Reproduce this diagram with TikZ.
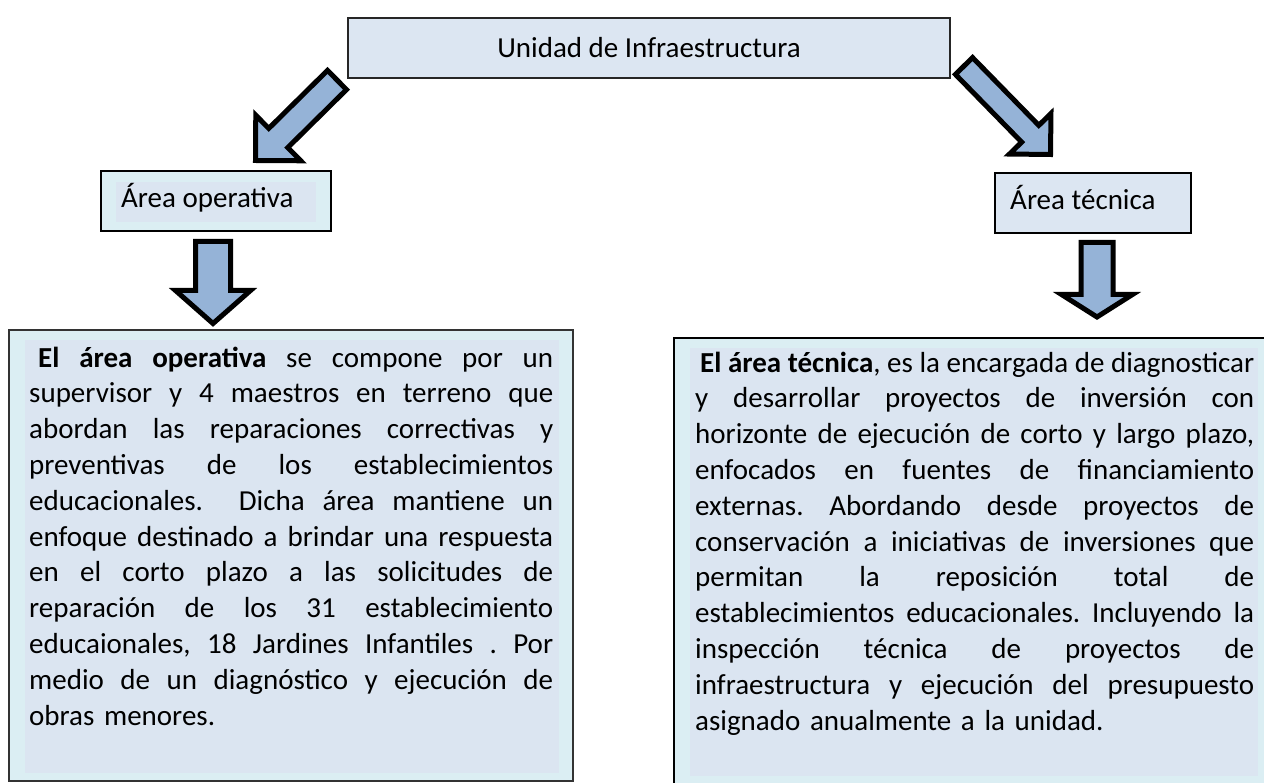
\documentclass[tikz,border=0pt]{standalone}
\usepackage{fontspec}
\setmainfont{Carlito}
\usetikzlibrary{calc,positioning}

\definecolor{unitfill}{HTML}{DCE6F2}
\definecolor{areafill}{HTML}{DBEEF3}
\definecolor{parfill}{HTML}{DBE5F1}
\definecolor{arrowfill}{HTML}{95B3D7}

% one justified line of a description
\newcommand{\jl}[2][524pt]{\hbox to #1{\spaceskip=6.6pt plus 1fil minus 2.4pt\relax #2}}
\newcommand{\bodyfont}{\fontsize{29pt}{35.8pt}\selectfont}

% block arrow: tail, tip, shaft half width, head half width, head length
\newcommand{\blkarrow}[5]{%
  \coordinate (#1hb) at ($(#2)!#5!(#1)$);
  \draw[blk] ($(#1)!#3!90:(#2)$) -- ($(#1hb)!#3!90:(#2)$)
    -- ($(#1hb)!#4!90:(#2)$) -- (#2)
    -- ($(#1hb)!#4!-90:(#2)$) -- ($(#1hb)!#3!-90:(#2)$)
    -- ($(#1)!#3!-90:(#2)$) -- cycle;}

\frenchspacing
\begin{document}
\begin{tikzpicture}[x=1pt, y=-1pt,
  lbl/.style={font=\bodyfont, inner sep=0pt},
  unit/.style={draw=black!85, line width=1.5pt, fill=unitfill,
               font=\bodyfont, inner sep=0pt},
  area/.style={draw=black, line width=2pt, inner sep=0pt},
  descbox/.style={draw=black!80, line width=1.7pt, fill=areafill, inner sep=0pt},
  partxt/.style={font=\bodyfont, inner sep=0pt, anchor=north west},
  blk/.style={draw=black, line width=5pt, fill=arrowfill, line join=miter},
]
\useasboundingbox (0,0) rectangle (1264,783);

%% ---- Unit (top) ----
\node[unit, minimum width=602pt, minimum height=60pt] (unidad) at (649,48)
  {Unidad de Infraestructura};

%% ---- Area boxes ----
\node[area, fill=areafill, minimum width=230pt, minimum height=60pt] (opera) at (216,201) {};
\fill[parfill] (116,182) rectangle (316,222);
\node[lbl, anchor=base west] (operatxt) at (121,208) {Área operativa};

\node[area, line width=2.3pt, fill=unitfill, minimum width=196pt, minimum height=60pt]
  (tecn) at (1093,203) {};
\node[lbl, anchor=base west] (tecntxt) at (1010,210) {Área técnica};

%% ---- Description boxes ----
\node[descbox, minimum width=564pt, minimum height=451pt] (opdesc) at (291,555.5) {};
\fill[parfill] ([shift={(17,11)}]opdesc.north west) rectangle ([shift={(-15,-9)}]opdesc.south east);
\node[partxt, text width=524pt] (optxt) at (29,342) {%
  \jl{\rule{0pt}{25pt}\hspace*{9pt}\textbf{El área operativa} se compone por un}
  \jl{supervisor y 4 maestros en terreno que}
  \jl{abordan las reparaciones correctivas y}
  \jl{preventivas de los establecimientos}
  \jl{educacionales. \ Dicha área mantiene un}
  \jl{enfoque destinado a brindar una respuesta}
  \jl{en el corto plazo a las solicitudes de}
  \jl{reparación de los 31 establecimiento}
  \jl{educaionales, 18 Jardines Infantiles . Por}
  \jl{medio de un diagnóstico y ejecución de}
  \hbox{obras menores.}};

\node[descbox, draw=black, line width=2.3pt, minimum width=595pt, minimum height=451pt]
  (tecdesc) at (971.5,563.5) {};
\fill[parfill] ([shift={(17,11)}]tecdesc.north west) rectangle (1258,776);
\node[partxt, text width=559pt] (tectxt) at (695,347) {%
  \jl[559pt]{\rule{0pt}{25pt}\hspace*{5pt}\textbf{El área técnica}, es la encargada de diagnosticar}
  \jl[559pt]{y desarrollar proyectos de inversión con}
  \jl[559pt]{horizonte de ejecución de corto y largo plazo,}
  \jl[559pt]{enfocados en fuentes de financiamiento}
  \jl[559pt]{externas. Abordando desde proyectos de}
  \jl[559pt]{conservación a iniciativas de inversiones que}
  \jl[559pt]{permitan la reposición total de}
  \jl[559pt]{establecimientos educacionales. Incluyendo la}
  \jl[559pt]{inspección técnica de proyectos de}
  \jl[559pt]{infraestructura y ejecución del presupuesto}
  \hbox{asignado anualmente a la unidad.}};

%% ---- Block arrows ----
\coordinate (ldt) at (337,80);    \coordinate (ldh) at (255.5,160.5);
\coordinate (rdt) at (964,66);    \coordinate (rdh) at (1050.5,154.5);
\coordinate (lvt) at (213,241.5); \coordinate (lvh) at (213,323.5);
\coordinate (rvt) at (1097,242.5); \coordinate (rvh) at (1097,317);

\blkarrow{ldt}{ldh}{13.5pt}{32pt}{32pt}
\blkarrow{rdt}{rdh}{12pt}{29pt}{29pt}
\blkarrow{lvt}{lvh}{17.5pt}{37.5pt}{33pt}
\blkarrow{rvt}{rvh}{16pt}{35.5pt}{22.5pt}

\end{tikzpicture}
\end{document}
